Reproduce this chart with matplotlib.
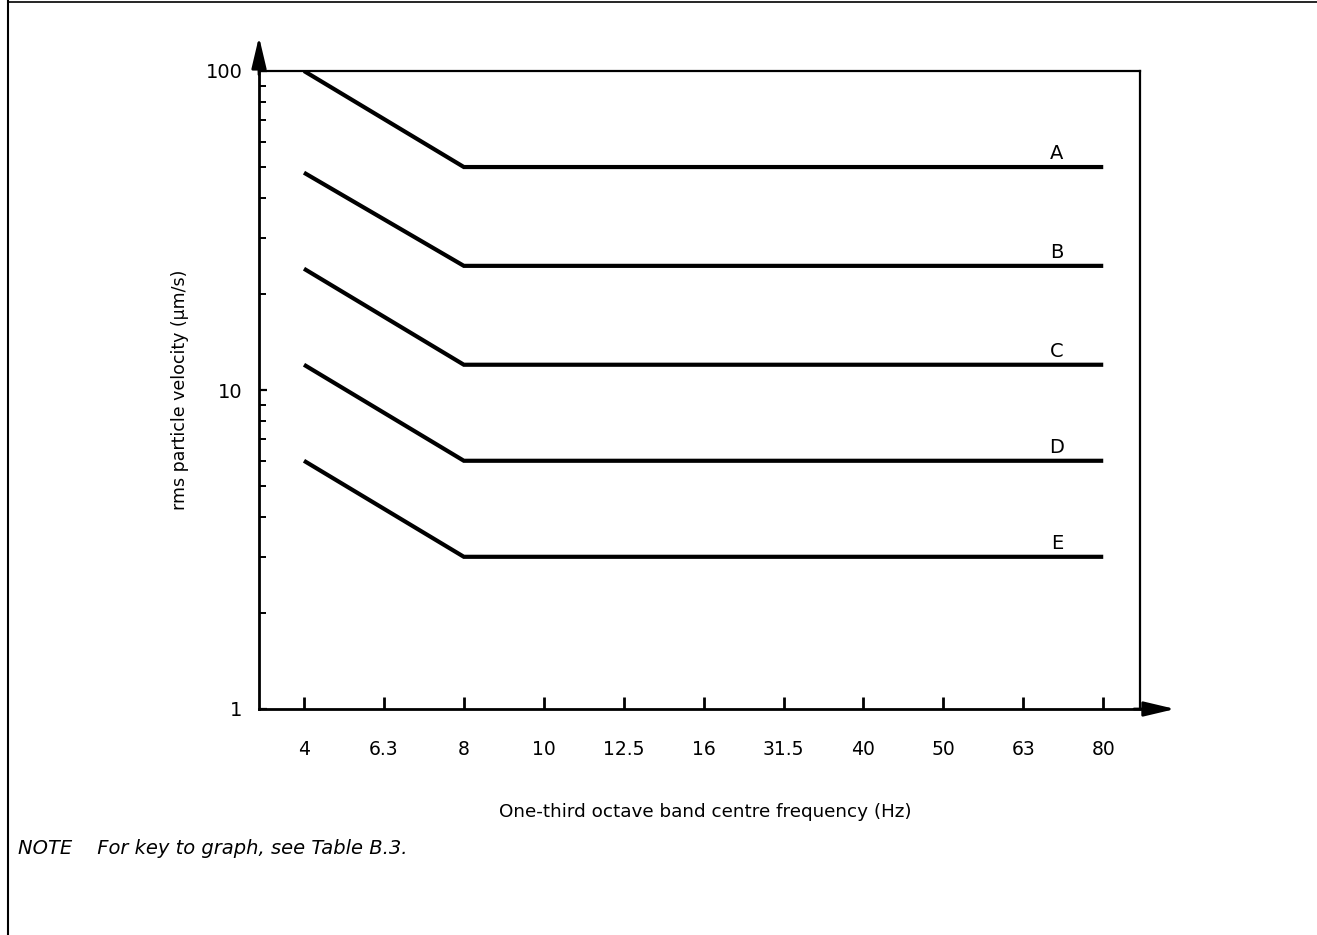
import matplotlib
matplotlib.use('Agg')
import matplotlib.pyplot as plt
from matplotlib.lines import Line2D
from matplotlib.ticker import FixedLocator, NullFormatter

# one-third octave band centre frequencies (equally spaced on the axis)
bands = ['4', '6.3', '8', '10', '12.5', '16', '31.5', '40', '50', '63', '80']

# breakpoints of each curve
curve_bands = ['4', '8', '80']
curve_names = ['A', 'B', 'C', 'D', 'E']
curve_A = [100, 50, 50]
curve_B = [48, 24.5, 24.5]
curve_C = [24, 12, 12]
curve_D = [12, 6, 6]
curve_E = [6, 3, 3]
curves = [curve_A, curve_B, curve_C, curve_D, curve_E]

font = ['DejaVu Sans']

fig = plt.figure(figsize=(13.17, 9.35), dpi=100)
ax = fig.add_axes([259 / 1317, 1 - 709 / 935, (1140 - 259) / 1317, (709 - 71) / 935])

xpos = [bands.index(b) for b in curve_bands]
for name, vals in zip(curve_names, curves):
    ax.plot(xpos, vals, color='black', linewidth=3.0, solid_capstyle='butt',
            solid_joinstyle='miter')
    ax.annotate(name, xy=(9.42, vals[-1]), xytext=(0, 3), textcoords='offset points',
                ha='center', va='bottom', fontsize=14, family=font)

ax.set_yscale('log')
ax.set_ylim(1, 100)
ax.set_xlim(-0.563, 10.46)

# axes lines
for side in ['left', 'bottom']:
    ax.spines[side].set_linewidth(2.0)
for side in ['right', 'top']:
    ax.spines[side].set_linewidth(1.6)

ax.set_xticks(range(len(bands)))
ax.set_xticklabels(bands, family=font, fontsize=13.5)
ax.tick_params(axis='x', direction='in', length=9, width=2, pad=22)

ax.yaxis.set_major_locator(FixedLocator([1, 10, 100]))
ax.set_yticklabels(['1', '10', '100'], fontsize=14)
minor = [v * d for d in (1, 10) for v in range(2, 10)]
ax.yaxis.set_minor_locator(FixedLocator(minor))
ax.yaxis.set_minor_formatter(NullFormatter())
ax.tick_params(axis='y', which='major', direction='in', length=6, width=1.6, pad=12)
ax.tick_params(axis='y', which='minor', direction='in', length=5, width=1.4)

# arrows on the axes
ax.annotate('', xy=(0, 1.058), xycoords='axes fraction', xytext=(0, 0.99),
            arrowprops=dict(arrowstyle='-|>,head_length=1.9,head_width=0.45',
                            color='black', lw=2))
ax.annotate('', xy=(1.043, 0), xycoords='axes fraction', xytext=(0.99, 0),
            arrowprops=dict(arrowstyle='-|>,head_length=1.9,head_width=0.45',
                            color='black', lw=2))

ax.set_ylabel('rms particle velocity (µm/s)', family=font, fontsize=12.5)
ax.yaxis.set_label_coords(-0.08, 0.5)
fig.text(705 / 1317, 1 - 812 / 935, 'One-third octave band centre frequency (Hz)',
         ha='center', va='center', family=font, fontsize=13.2)

fig.text(18 / 1317, 1 - 848 / 935, 'NOTE    For key to graph, see Table B.3.',
         ha='left', va='center', fontsize=14, style='italic', fontweight='medium',
         family='DejaVu Sans')

# page frame from the scan
fig.add_artist(Line2D([8 / 1317, 8 / 1317], [0, 1], color='black', lw=1.5))
fig.add_artist(Line2D([8 / 1317, 1], [1 - 2 / 935, 1 - 2 / 935], color='black', lw=1.2))

fig.savefig('out.png', dpi=100)
